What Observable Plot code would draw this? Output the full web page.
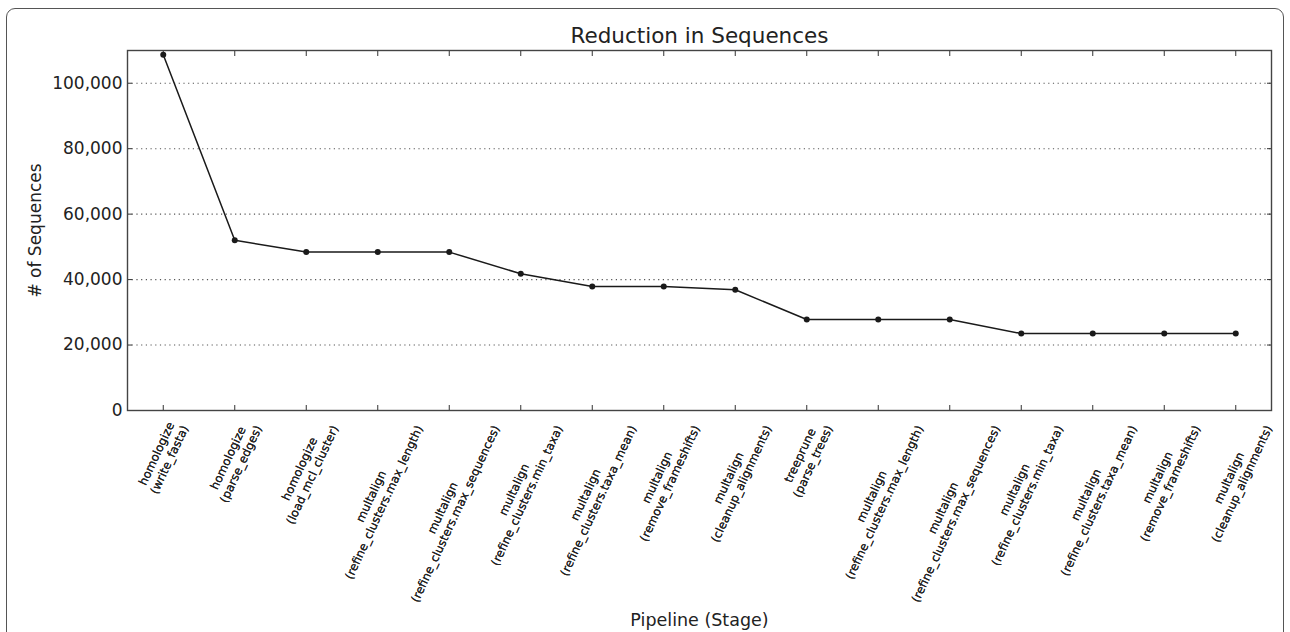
<!DOCTYPE html>
<html><head><meta charset="utf-8">
<script src="https://cdn.jsdelivr.net/npm/d3@7"></script>
<script src="https://cdn.jsdelivr.net/npm/@observablehq/plot@0.6"></script>
<style>
body{margin:0;background:#fff;overflow:hidden;font-family:"DejaVu Sans",sans-serif}
#wrap{position:relative;width:1290px;height:632px;overflow:hidden;background:#fff}
#border{position:absolute;left:6px;top:8px;width:1278px;height:680px;border:1.5px solid #555;border-radius:9px;box-sizing:border-box}
#chart{position:absolute;left:0;top:0}
</style></head><body>
<div id="wrap"><div id="border"></div><div id="chart"></div></div>
<script>
const modules = ["homologize","homologize","homologize","multalign","multalign","multalign","multalign","multalign","multalign","treeprune","multalign","multalign","multalign","multalign","multalign","multalign"];
const steps = ["write_fasta","parse_edges","load_mcl_cluster","refine_clusters.max_length","refine_clusters.max_sequences","refine_clusters.min_taxa","refine_clusters.taxa_mean","remove_frameshifts","cleanup_alignments","parse_trees","refine_clusters.max_length","refine_clusters.max_sequences","refine_clusters.min_taxa","refine_clusters.taxa_mean","remove_frameshifts","cleanup_alignments"];
const counts = [108700, 52000, 48400, 48400, 48400, 41800, 37900, 37900, 36900, 27800, 27800, 27800, 23500, 23500, 23500, 23500];
const yTicks = [0, 20000, 40000, 60000, 80000, 100000];
const yMax = 110000;
const title = "Reduction in Sequences";
const xTitle = "Pipeline (Stage)";
const yTitle = "# of Sequences";

const data = counts.map((c, i) => ({i, label: `${modules[i]}\n(${steps[i]})`, count: c}));
const stageIdx = data.map(d => d.i);
const labelOf = i => data[i].label;
const ink = "#1a1a1a";

const chart = Plot.plot({
  width: 1290, height: 632,
  marginLeft: 127, marginRight: 19, marginTop: 50, marginBottom: 222,
  style: {fontFamily: "DejaVu Sans", background: "transparent", color: "#222", overflow: "visible"},
  x: {type: "point", domain: stageIdx, padding: 0.5, round: false},
  y: {domain: [0, yMax]},
  marks: [
    Plot.ruleY(yTicks, {stroke: "#555", strokeDasharray: "1.2,3.5", strokeWidth: 1.1}),
    Plot.axisX(stageIdx, {anchor: "top", tickSize: -5, text: null, label: null, stroke: "#333"}),
    Plot.axisY(yTicks, {anchor: "right", tickSize: -5, text: null, label: null, stroke: "#333"}),
    Plot.axisY(yTicks, {anchor: "left", tickSize: -5, tickPadding: 10, tickFormat: d3.format(","), fontSize: 17, label: null, stroke: "#333", fill: "#222"}),
    Plot.axisX(stageIdx, {anchor: "bottom", tickSize: -5, tickPadding: 10, tickFormat: labelOf, fontSize: 11.8, label: null, stroke: "#333", fill: "#222"}),
    Plot.frame({stroke: "#444", strokeWidth: 1.4}),
    Plot.line(data, {x: "i", y: "count", stroke: ink, strokeWidth: 1.5}),
    Plot.dot(data, {x: "i", y: "count", r: 3, fill: ink}),
    Plot.text([title], {frameAnchor: "top", lineAnchor: "bottom", dy: -8, fontSize: 21.5, fill: "#222"}),
    Plot.text([xTitle], {frameAnchor: "bottom", lineAnchor: "bottom", dy: 215, fontSize: 17.5, fill: "#222"}),
    Plot.text([yTitle], {frameAnchor: "left", textAnchor: "middle", rotate: -90, lineAnchor: "middle", dx: -92, fontSize: 17, fill: "#222"})
  ]
});
document.getElementById("chart").append(chart);

// Matplotlib-style rotated, center-multialigned tick labels
const xs = chart.scale("x");
const fs = 11.8, lh = 1.2 * fs, ang = 65, rad = ang * Math.PI / 180;
const labelTop = 417;
chart.querySelectorAll('g[aria-label="x-axis tick label"]').forEach(g => {
  g.removeAttribute("transform");
  const texts = g.querySelectorAll("text");
  texts.forEach((t, k) => {
    const lines = labelOf(stageIdx[k]).split("\n");
    while (t.firstChild) t.removeChild(t.firstChild);
    t.removeAttribute("x"); t.removeAttribute("y"); t.removeAttribute("dy");
    t.setAttribute("text-anchor", "middle");
    t.setAttribute("font-size", fs);
    const n = lines.length;
    let W = 0;
    lines.forEach((ln, j) => {
      const ts = document.createElementNS("http://www.w3.org/2000/svg", "tspan");
      ts.textContent = ln;
      ts.setAttribute("x", 0);
      ts.setAttribute("y", ((j - (n - 1) / 2) * lh + 0.36 * fs).toFixed(2));
      t.appendChild(ts);
      W = Math.max(W, ts.getComputedTextLength());
    });
    const H = n * lh;
    const bh = W * Math.sin(rad) + H * Math.cos(rad);
    const cx = xs.apply(stageIdx[k]);
    const cy = labelTop + bh / 2;
    t.setAttribute("transform", `translate(${cx.toFixed(2)},${cy.toFixed(2)}) rotate(${-ang})`);
  });
});
</script>
</body></html>
